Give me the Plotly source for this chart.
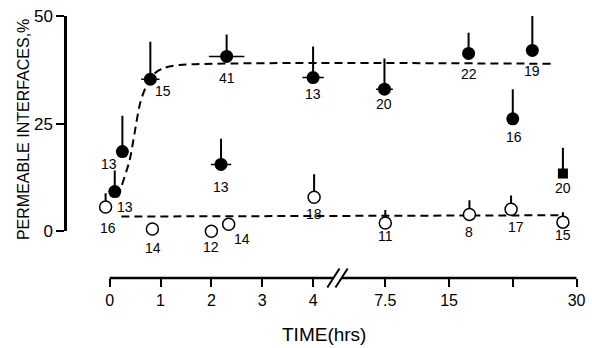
import numpy as np
import plotly.graph_objects as go

# ---------------- data ----------------
tick_hours = [0, 1, 2, 3, 4, 7.5, 15, 22.5, 30]
tick_text = ["0", "1", "2", "3", "4", "7.5", "15", "", "30"]
y_ticks = [0, 25, 50]

# filled circles: time (h), % permeable, upper error, time error (h), n
filled_t = [0.1, 0.25, 0.8, 2.3, 2.19, 4.0, 7.4, 17.3, 22.5, 24.8]
filled_v = [9.2, 18.5, 35.3, 40.6, 15.5, 35.7, 33.0, 41.3, 26.1, 42.0]
filled_err = [4.9, 8.3, 8.7, 5.1, 6.0, 7.2, 7.1, 4.8, 6.9, 8.0]
filled_terr = [0, 0, 0.18, 0.35, 0.2, 0.21, 0.99, 0, 0, 0]
filled_n = ["13", "13", "15", "41", "13", "13", "20", "22", "16", "19"]

# open circles
open_t = [-0.08, 0.84, 2.0, 2.34, 4.02, 7.5, 17.4, 22.3, 28.4]
open_v = [5.6, 0.5, 0.0, 1.6, 7.9, 1.9, 3.9, 5.1, 2.1]
open_err = [3.2, 0, 0, 0, 5.3, 3.0, 3.3, 3.2, 2.3]
open_n = ["16", "14", "12", "14", "18", "11", "8", "17", "15"]

# filled square
square_t = [28.4]
square_v = [13.4]
square_err = [6.0]
square_n = ["20"]

# fitted dashed curves
upper_t = [0.16, 0.39, 0.49, 0.6, 0.72, 0.9, 1.07, 1.37, 27.0]
upper_v = [7.9, 16.4, 22.8, 29.8, 33.7, 36.8, 37.9, 38.6, 38.9]
lower_t = [0.23, 28.2]
lower_v = [3.4, 3.7]

# ---------------- label offsets (style, px) ----------------
filled_lab_off = [(10, 15), (-13, 12), (13, 12), (0, 22), (0, 23), (0, 16),
                  (0, 15), (0, 21), (1, 18), (0, 21)]
open_lab_off = [(2, 21), (1, 19), (0, 16), (13, 15), (0, 17), (0, 13),
                (0, 18), (5, 18), (0, 13)]
square_lab_off = [(0, 14)]

BREAK_T0 = 4.0
BREAK_P1 = 5.42          # axis position of 7.5 h
LATE_SCALE = 1.2533 / 7.5


def to_pos(t):
    t = np.asarray(t, dtype=float)
    return np.where(t <= 5.5, t, BREAK_P1 + (t - 7.5) * LATE_SCALE)


def terr_pos(t, e):
    t = np.asarray(t, float)
    e = np.asarray(e, float)
    return to_pos(t + e) - to_pos(t)


FONT = "Liberation Sans, Arial, sans-serif"
fig = go.Figure()

# dashed curves
fig.add_trace(go.Scatter(x=to_pos(upper_t), y=upper_v, mode="lines",
                         line=dict(color="black", width=2, dash="8px,5px", shape="spline", smoothing=0.8),
                         hoverinfo="skip", showlegend=False))
fig.add_trace(go.Scatter(x=to_pos(lower_t), y=lower_v, mode="lines",
                         line=dict(color="black", width=2, dash="8px,5px"),
                         hoverinfo="skip", showlegend=False))

# filled circles
fig.add_trace(go.Scatter(
    x=to_pos(filled_t), y=filled_v, mode="markers", cliponaxis=False,
    marker=dict(symbol="circle", size=13, color="black"),
    error_y=dict(type="data", symmetric=False, array=filled_err,
                 arrayminus=[0] * len(filled_err), width=0, thickness=2, color="black"),
    error_x=dict(type="data", array=terr_pos(filled_t, filled_terr),
                 width=0, thickness=1.5, color="black"),
    showlegend=False))

# open circles
fig.add_trace(go.Scatter(
    x=to_pos(open_t), y=open_v, mode="markers", cliponaxis=False,
    marker=dict(symbol="circle", size=12, color="white",
                line=dict(color="black", width=1.5)),
    error_y=dict(type="data", symmetric=False, array=open_err,
                 arrayminus=[0] * len(open_err), width=0, thickness=2, color="black"),
    showlegend=False))

# filled square
fig.add_trace(go.Scatter(
    x=to_pos(square_t), y=square_v, mode="markers", cliponaxis=False,
    marker=dict(symbol="square", size=10, color="black"),
    error_y=dict(type="data", symmetric=False, array=square_err,
                 arrayminus=[0], width=0, thickness=2, color="black"),
    showlegend=False))

annotations = []
for ts, vs, ns, offs in [(filled_t, filled_v, filled_n, filled_lab_off),
                         (open_t, open_v, open_n, open_lab_off),
                         (square_t, square_v, square_n, square_lab_off)]:
    for t, v, n, (dx, dy) in zip(to_pos(ts), vs, ns, offs):
        annotations.append(dict(x=float(t), y=v, xref="x", yref="y", text=n,
                                showarrow=False, xshift=dx, yshift=-dy,
                                font=dict(family=FONT, size=14, color="black")))

annotations.append(dict(x=0, y=0.5665, xref="paper", yref="paper", xshift=-54,
                        text="PERMEABLE INTERFACES,%", textangle=-90, showarrow=False,
                        font=dict(family=FONT, size=16, color="black")))
annotations.append(dict(x=0.5, y=-0.2167, xref="paper", yref="paper", yanchor="middle",
                        text="TIME(hrs)", showarrow=False,
                        font=dict(family=FONT, size=19, color="black")))

# x axis line with break
bp = float(to_pos([BREAK_T0])[0]) + 0.48
gap = 0.08
shapes = [
    dict(type="line", xref="x", yref="paper", x0=0, x1=bp - gap, y0=0, y1=0,
         line=dict(color="black", width=2.5)),
    dict(type="line", xref="x", yref="paper", x0=bp + gap, x1=float(to_pos([30])[0]), y0=0, y1=0,
         line=dict(color="black", width=2.5)),
]
for c in (bp - gap, bp + gap):
    shapes.append(dict(type="line", xref="x", yref="paper", x0=c - 0.12, x1=c + 0.12,
                       y0=-0.036, y1=0.036, line=dict(color="black", width=2)))

fig.update_layout(
    width=592, height=348,
    margin=dict(l=67, r=7, t=15, b=70),
    paper_bgcolor="white", plot_bgcolor="white",
    font=dict(family=FONT, color="black"),
    annotations=annotations, shapes=shapes,
    xaxis=dict(range=[-0.839, 9.268], anchor="free", position=0,
               tickvals=to_pos(tick_hours).tolist(), ticktext=tick_text,
               ticks="outside", ticklen=8, tickwidth=2, tickcolor="black",
               showline=False, showgrid=False, zeroline=False,
               tickfont=dict(family=FONT, size=16, color="black")),
    yaxis=dict(range=[0, 50], domain=[0.1787, 1], anchor="x",
               tickvals=y_ticks, ticks="outside", ticklen=8, tickwidth=2,
               tickcolor="black", showline=True, linewidth=2.5, linecolor="black",
               showgrid=False, zeroline=False,
               tickfont=dict(family=FONT, size=17, color="black")),
)

fig.write_html("out.html")
